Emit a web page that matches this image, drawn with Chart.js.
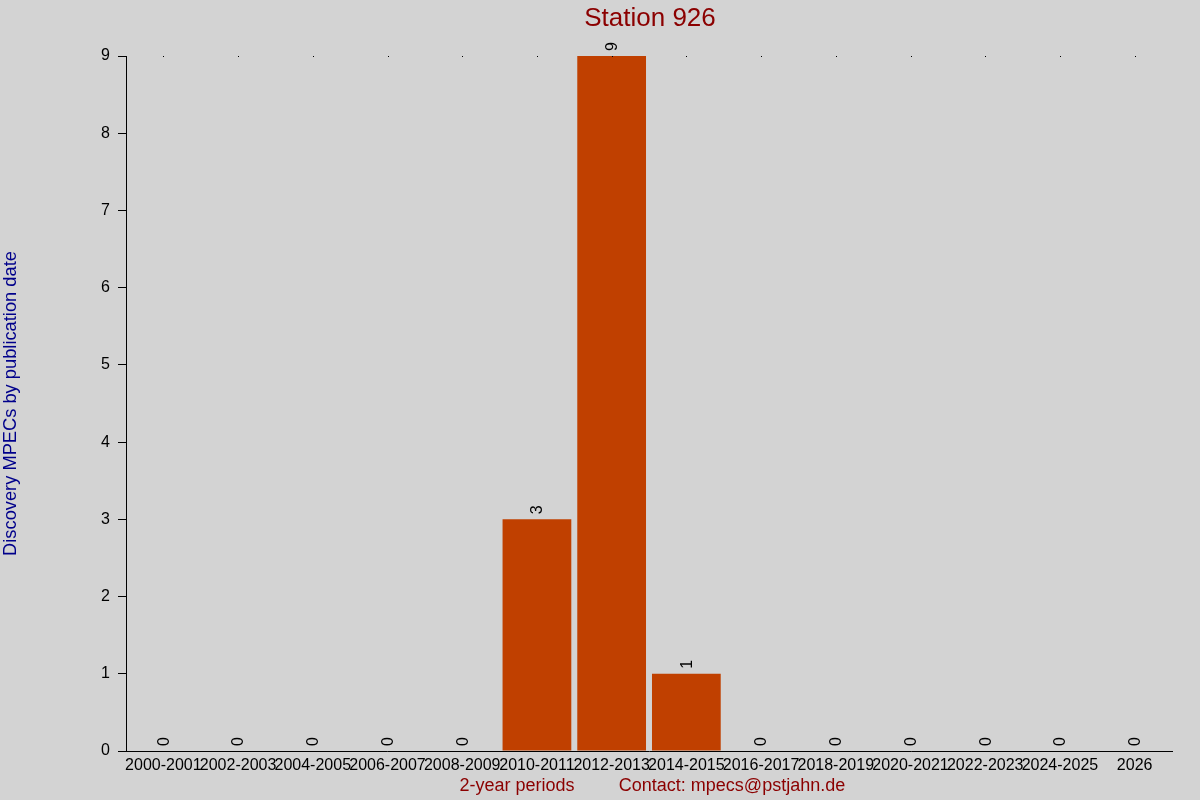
<!DOCTYPE html>
<html>
<head>
<meta charset="utf-8">
<script src="https://cdn.jsdelivr.net/npm/chart.js@4"></script>
<style>
html,body{margin:0;padding:0;background:#d3d3d3;}
#wrap{width:1200px;height:800px;}
</style>
</head>
<body>
<div id="wrap"><canvas id="c" width="1200" height="800"></canvas></div>
<script>
const categories = ["2000-2001","2002-2003","2004-2005","2006-2007","2008-2009","2010-2011","2012-2013","2014-2015","2016-2017","2018-2019","2020-2021","2022-2023","2024-2025","2026"];
const discoveries = [0,0,0,0,0,3,9,1,0,0,0,0,0,0];
const yTicks = [0,1,2,3,4,5,6,7,8,9];
const chartTitle = "Station 926";
const yTitle = "Discovery MPECs by publication date";
const xTitle = "2-year periods";
const contactText = "Contact: mpecs@pstjahn.de";

const FONT = "'Liberation Sans', Arial, sans-serif";

const bgPlugin = {
  id: 'bg',
  beforeDraw(chart) {
    const ctx = chart.ctx;
    ctx.save();
    ctx.fillStyle = '#d3d3d3';
    ctx.fillRect(0, 0, chart.width, chart.height);
    ctx.restore();
  }
};

const extrasPlugin = {
  id: 'extras',
  afterDatasetsDraw(chart) {
    const ctx = chart.ctx;
    const meta = chart.getDatasetMeta(0);
    const xs = chart.scales.x;
    const ys = chart.scales.y;
    ctx.save();
    // value labels
    ctx.fillStyle = '#000';
    ctx.font = "16px " + FONT;
    ctx.textAlign = 'left';
    ctx.textBaseline = 'middle';
    meta.data.forEach((bar, i) => {
      const v = discoveries[i];
      const x = xs.getPixelForValue(i);
      const y = ys.getPixelForValue(v);
      ctx.save();
      ctx.translate(x + 1, y - 5);
      ctx.rotate(-Math.PI / 2);
      ctx.fillText(String(v), 0, 0);
      ctx.restore();
    });
    // top dots
    ctx.fillStyle = '#000';
    const topY = ys.getPixelForValue(yTicks[yTicks.length - 1]);
    categories.forEach((c, i) => {
      const x = Math.round(xs.getPixelForValue(i));
      ctx.fillRect(x, Math.round(topY), 1, 1);
    });
    // x title parts
    ctx.font = "18px " + FONT;
    ctx.fillStyle = '#8b0000';
    ctx.textAlign = 'center';
    ctx.textBaseline = 'middle';
    ctx.fillText(xTitle, 517, 786);
    ctx.fillText(contactText, 732, 786);
    // title
    ctx.font = "26px " + FONT;
    ctx.fillText(chartTitle, 650, 19);
    ctx.restore();
  }
};

new Chart(document.getElementById('c'), {
  type: 'bar',
  data: {
    labels: categories,
    datasets: [{
      data: discoveries,
      backgroundColor: '#c04000',
      borderWidth: 0,
      barPercentage: 0.92,
      categoryPercentage: 1.0
    }]
  },
  options: {
    responsive: false,
    animation: false,
    devicePixelRatio: 1,
    layout: { padding: { left: 0, right: 28, top: 56, bottom: 0 } },
    plugins: {
      legend: { display: false },
      tooltip: { enabled: false },
      title: { display: false }
    },
    scales: {
      x: {
        grid: { display: false },
        border: { display: true, color: '#000', width: 1 },
        ticks: {
          color: '#000',
          font: { family: FONT, size: 16 },
          maxRotation: 0,
          minRotation: 0,
          autoSkip: false,
          padding: -3
        },
        afterFit(scale) { scale.height = 49; }
      },
      y: {
        min: 0,
        max: 9,
        afterBuildTicks(scale) { scale.ticks = yTicks.map(v => ({ value: v })); },
        grid: { display: true, drawOnChartArea: false, drawTicks: true, tickLength: 8, color: '#000' },
        border: { display: true, color: '#000', width: 1 },
        ticks: {
          color: '#000',
          font: { family: FONT, size: 16 },
          padding: 8,
          stepSize: 1
        },
        title: {
          display: true,
          text: yTitle,
          color: '#00008b',
          font: { family: FONT, size: 18.3 },
          padding: 0
        },
        afterFit(scale) { scale.width = 126; }
      }
    }
  },
  plugins: [bgPlugin, extrasPlugin]
});
</script>
</body>
</html>
